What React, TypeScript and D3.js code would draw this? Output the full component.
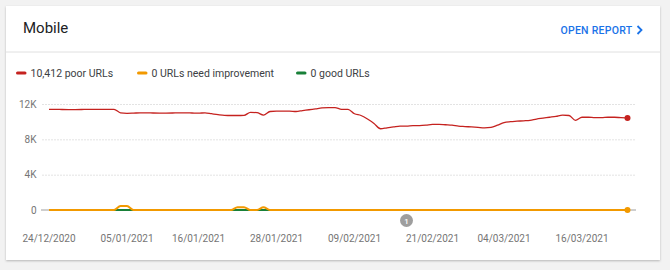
import React from "react";
import * as d3 from "d3";

const startDate = new Date(2020, 11, 24);
const poorUrls = [
  11400, 11400, 11380, 11370, 11370, 11380, 11400, 11400, 11400, 11400, 11400,
  11000,
  10950, 10970, 11000, 11000, 10980, 10970, 10970, 10980, 11000, 11000, 10980, 10960, 11000,
  10900, 10800, 10720,
  10700, 10700, 10720,
  11050, 11020, 10750, 11150,
  11200, 11200, 11200, 11150,
  11250, 11350, 11450, 11550, 11600,
  11600, 11400, 11400,
  10900, 10700, 10300, 9800, 9200, 9300, 9400, 9500,
  9500, 9550, 9550,
  9600, 9700, 9700,
  9650, 9600, 9500, 9450, 9400, 9350,
  9300, 9350, 9600, 9900, 10000, 10050, 10100, 10150, 10300, 10400, 10500, 10600, 10750, 10700, 10150,
  10500, 10500, 10450, 10450, 10500, 10500, 10450, 10412,
];
const needImprovement = poorUrls.map(() => 0);
[[11, 450], [12, 450], [29, 320], [30, 320], [33, 300]].forEach(([i, v]) => (needImprovement[i] = v));
const goodUrls = poorUrls.map(() => 0);

const yTicks = [0, 4000, 8000, 12000];
const yTickLabels = ["0", "4K", "8K", "12K"];
const xTickDates = ["24/12/2020", "05/01/2021", "16/01/2021", "28/01/2021", "09/02/2021", "21/02/2021", "04/03/2021", "16/03/2021"];
const legendItems = [
  { label: "10,412 poor URLs", color: "#c5221f" },
  { label: "0 URLs need improvement", color: "#f29900" },
  { label: "0 good URLs", color: "#188038" },
];
const annotationDate = new Date(2021, 1, 17);

const parseDmy = (s: string) => {
  const [d, m, y] = s.split("/").map(Number);
  return new Date(y, m - 1, d);
};

export default function App() {
  const dates = poorUrls.map((_, i) => d3.timeDay.offset(startDate, i));
  const x = d3.scaleTime().domain([dates[0], dates[dates.length - 1]]).range([49, 627.5]);
  const y = d3.scaleLinear().domain([0, 12000]).range([210, 104]);
  const line = (vals: number[]) =>
    d3
      .line<number>()
      .x((_, i) => x(dates[i]))
      .y((v) => y(v))
      .curve(d3.curveMonotoneX)(vals) || "";
  const font = "Roboto, 'Noto Sans', sans-serif";
  const legendX = [17, 138, 297];
  const last = poorUrls.length - 1;
  return (
    <svg width={670} height={270} style={{ position: "absolute", left: 0, top: 0 }} fontFamily={font}>
      <defs>
        <filter id="sh" x="-5%" y="-5%" width="110%" height="115%">
          <feDropShadow dx="0" dy="1" stdDeviation="1" floodColor="#000" floodOpacity="0.25" />
        </filter>
      </defs>
      <rect x={0} y={0} width={670} height={270} fill="#f2f2f2" />
      <rect x={6} y={6} width={654} height={254} fill="#fff" filter="url(#sh)" />
      <text x={23} y={33} fontSize={15} fill="#202124">Mobile</text>
      <text x={560.5} y={33.5} fontSize={10.5} fontWeight={500} letterSpacing={0.25} fill="#1a73e8">OPEN REPORT</text>
      <path d="M637.5,26 L641.5,30 L637.5,34" fill="none" stroke="#1a73e8" strokeWidth={1.8} />
      <line x1={6} x2={660} y1={52} y2={52} stroke="#e0e0e0" strokeWidth={1} />
      {legendItems.map((it, i) => (
        <g key={it.label}>
          <line x1={legendX[i] + 0.5} x2={legendX[i] + 8} y1={73} y2={73} stroke={it.color} strokeWidth={3} strokeLinecap="round" />
          <text x={legendX[i] + 13.5} y={76.5} fontSize={10.5} fill="#3c4043">{it.label}</text>
        </g>
      ))}
      {yTicks.map((t, i) => (
        <g key={t}>
          {t === 0 ? (
            <line x1={41} x2={636} y1={y(t)} y2={y(t)} stroke="#9e9e9e" strokeWidth={1} />
          ) : (
            <line x1={42} x2={636} y1={y(t) + 0.5} y2={y(t) + 0.5} stroke="#e3e3e3" strokeWidth={1} strokeDasharray="2,1" />
          )}
          <text x={36.5} y={y(t) + 3.5} fontSize={10} textAnchor="end" fill="#757575">{yTickLabels[i]}</text>
        </g>
      ))}
      {xTickDates.map((s) => (
        <text key={s} x={x(parseDmy(s))} y={241.5} fontSize={10} textAnchor="middle" fill="#757575">{s}</text>
      ))}
      <path d={line(goodUrls)} fill="none" stroke="#188038" strokeWidth={2} />
      <path d={line(needImprovement)} fill="none" stroke="#f29900" strokeWidth={2} />
      <path d={line(poorUrls)} fill="none" stroke="#c5221f" strokeWidth={1.3} />
      <circle cx={x(dates[last])} cy={y(poorUrls[last])} r={3} fill="#c5221f" />
      <circle cx={x(dates[last])} cy={y(needImprovement[last])} r={3} fill="#f29900" />
      <circle cx={x(annotationDate)} cy={220.5} r={6.5} fill="#9e9e9e" />
      <text x={x(annotationDate)} y={223.5} fontSize={8} fontWeight={500} textAnchor="middle" fill="#fff">1</text>
    </svg>
  );
}
